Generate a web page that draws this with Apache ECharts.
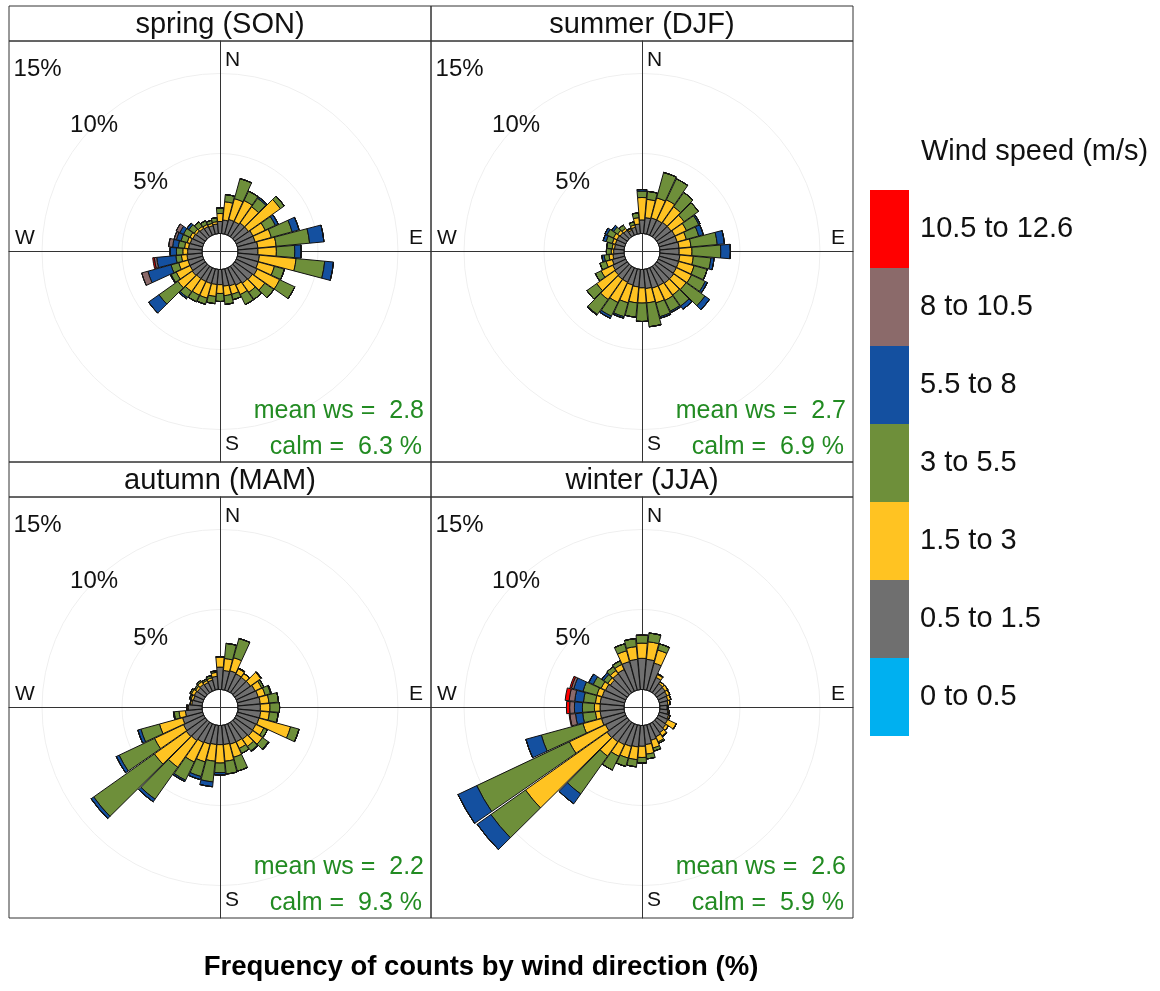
<!DOCTYPE html>
<html>
<head>
<meta charset="utf-8">
<title>Wind rose by season</title>
<script src="https://cdn.jsdelivr.net/npm/echarts@6/dist/echarts.min.js"></script>
<style>
  html, body { margin: 0; padding: 0; background: #fff; }
  #chart { width: 1160px; height: 991px; }
</style>
</head>
<body>
<div id="chart"></div>
<script>
// direction bins, degrees clockwise from north
const directions = [10, 20, 30, 40, 50, 60, 70, 80, 90, 100, 110, 120, 130, 140, 150, 160, 170, 180,
                    190, 200, 210, 220, 230, 240, 250, 260, 270, 280, 290, 300, 310, 320, 330, 340, 350, 360];
const seasons = ['spring (SON)', 'summer (DJF)', 'autumn (MAM)', 'winter (JJA)'];
const speedBins = ['0 to 0.5', '0.5 to 1.5', '1.5 to 3', '3 to 5.5', '5.5 to 8', '8 to 10.5', '10.5 to 12.6'];
const binColors = ['#00b0f0', '#6f6f6f', '#ffc322', '#6e8f3a', '#1450a0', '#8b6a6a', '#ff0000'];
const meanWs = [2.8, 2.7, 2.2, 2.6];
const calm = [6.3, 6.9, 9.3, 5.9];
const compass = ['N', 'S', 'W', 'E'];

// frequency (%) per direction, one array per speed bin
const spring_0_05 = [0,0,0,0,0,0,0,0,0,0,0,0,0,0,0,0,0,0,0,0,0,0,0,0,0,0,0,0,0,0,0,0,0,0,0,0];
const spring_05_15 = [0.85,0.95,0.95,1.05,1.05,1.15,1.15,1.25,1.25,1.35,1.35,1.45,1.35,1.30,1.20,1.10,1.05,0.95,
                      0.95,0.95,0.95,0.95,1.00,0.95,0.95,0.95,0.90,0.85,0.80,0.75,0.70,0.65,0.60,0.55,0.60,0.75];
const spring_15_3 = [1.15,1.35,1.45,1.25,2.45,0.85,1.05,1.15,1.15,2.30,1.05,1.55,0.95,0.70,0.65,0.55,0.60,0.55,
                     0.75,0.95,0.95,1.00,1.10,0.95,0.60,0.35,0.30,0.25,0.20,0.20,0.15,0.15,0.15,0.15,0.15,0.50];
const spring_3_55 = [0.45,1.30,0.65,0.65,0.30,0.70,1.35,2.10,1.15,1.80,0.65,1.05,0.70,0.55,0.70,0.35,0.55,0.50,
                     0.45,0.40,0.45,0.45,1.45,0.35,0.50,0.35,0.40,0.40,0.40,0.45,0.40,0.35,0.25,0.20,0.25,0.35];
const spring_55_8 = [0,0,0,0.10,0,0.20,0.45,0.90,0.40,0.55,0,0,0,0,0,0,0,0,
                     0,0,0,0.10,0.80,0.05,1.50,1.20,0.40,0.35,0.30,0.25,0.15,0,0,0,0,0];
const spring_8_105 = [0,0,0,0,0,0,0,0,0,0,0,0,0,0,0,0,0,0,
                      0,0,0,0,0,0,0.40,0.15,0,0.25,0.15,0.25,0,0,0,0,0,0];
const spring_105_126 = [0,0,0,0,0,0,0,0,0,0,0,0,0,0,0,0,0,0,
                        0,0,0,0,0,0,0,0.10,0,0,0,0,0,0,0,0,0,0];

const summer_0_05 = [0,0,0,0,0,0,0,0,0,0,0,0,0,0,0,0,0,0,0,0,0,0,0,0,0,0,0,0,0,0,0,0,0,0,0,0];
const summer_05_15 = [1.00,1.05,1.05,1.10,1.10,1.15,1.15,1.20,1.20,1.25,1.25,1.25,1.30,1.30,1.25,1.25,1.20,1.15,
                      1.10,1.05,1.00,1.00,0.95,0.90,0.80,0.70,0.65,0.60,0.60,0.60,0.55,0.50,0.35,0.45,0.60,0.85];
const summer_15_3 = [1.15,1.30,1.40,1.20,1.00,0.80,0.60,0.75,0.80,0.85,1.00,1.05,0.95,0.90,1.00,0.95,0.90,0.95,
                     1.00,1.15,1.40,1.55,1.40,0.80,0.40,0.25,0.15,0.15,0.20,0.25,0.20,0.15,0.10,0.15,0.40,1.40];
const summer_3_55 = [0.50,1.65,1.45,1.10,1.10,0.85,0.80,1.65,1.80,1.10,0.85,0.95,1.45,0.85,0.75,0.90,1.50,1.15,
                     0.90,0.90,0.95,1.15,0.75,0.40,0.40,0.30,0.30,0.35,0.40,0.45,0.30,0.25,0.05,0.20,0.30,0.40];
const summer_55_8 = [0,0,0,0,0,0.10,0.30,0.45,0.60,0.20,0,0.15,0.35,0.25,0.10,0.10,0,0,
                     0,0.10,0.15,0.05,0,0,0,0.15,0,0,0.20,0.15,0.15,0,0,0,0,0.10];
const summer_8_105 = [0,0,0,0,0,0,0,0,0,0,0,0,0,0,0,0,0,0,0,0,0,0,0,0,0,0,0,0,0,0,0,0,0,0,0,0];
const summer_105_126 = [0,0,0,0,0,0,0,0,0,0,0,0,0,0,0,0,0,0,0,0,0,0,0,0,0,0,0,0,0,0,0,0,0,0,0,0];

const autumn_0_05 = [0,0,0,0.03,0,0,0,0,0,0.03,0,0,0.03,0,0,0,0,0,
                     0,0,0,0,0,0,0,0,0,0,0,0,0,0,0,0,0.03,0];
const autumn_05_15 = [1.20,1.25,1.20,1.15,1.20,1.30,1.35,1.40,1.40,1.40,1.40,1.35,1.35,1.30,1.25,1.25,1.20,1.20,
                      1.20,1.25,1.30,1.40,1.45,1.40,1.30,1.05,0.85,0.65,0.60,0.65,0.60,0.65,0.60,0.65,0.80,1.40];
const autumn_15_3 = [0.75,0.85,0.35,0.30,0.80,0.45,0.45,0.55,0.60,0.55,2.05,0.55,0.75,0.55,0.45,0.85,1.05,1.15,
                     1.05,1.15,1.35,2.05,2.45,2.00,1.50,0.40,0.10,0.10,0.15,0.20,0.15,0.20,0.15,0.15,0.25,0.65];
const autumn_3_55 = [0.95,1.25,0.05,0,0.05,0.15,0.35,0.60,0.60,0.55,0.55,0.25,0.45,0.35,0.35,0.90,0.80,0.60,
                     1.30,0.95,1.25,2.45,4.65,2.45,1.20,0.30,0,0,0.10,0.10,0.10,0.10,0.10,0.15,0.10,0];
const autumn_55_8 = [0,0,0,0,0,0,0.05,0,0,0,0,0,0.05,0.05,0,0,0,0.15,
                     0.30,0.20,0.10,0.20,0.20,0.20,0.20,0.05,0,0,0,0,0,0,0,0,0,0];
const autumn_8_105 = [0,0,0,0,0,0,0,0,0,0,0,0,0,0,0,0,0,0,0,0,0,0,0,0,0,0,0,0,0,0,0,0,0,0,0,0];
const autumn_105_126 = [0,0,0,0,0,0,0,0,0,0,0,0,0,0,0,0,0,0,0,0,0,0,0,0,0,0,0,0,0,0,0,0,0,0,0,0];

const winter_0_05 = [0,0,0,0,0,0,0,0,0,0,0,0,0,0,0,0,0,0,0,0,0,0,0,0,0,0,0,0,0,0,0,0,0,0,0,0];
const winter_05_15 = [1.90,1.75,0.95,0.70,0.65,0.60,0.55,0.50,0.45,0.50,0.60,0.65,0.70,0.80,0.90,1.00,1.20,1.30,
                      1.35,1.40,1.45,1.50,1.55,1.40,1.50,1.50,1.50,1.50,1.45,1.40,1.30,1.45,1.50,1.85,1.90,1.95];
const winter_15_3 = [1.10,0.85,0.20,0.15,0.20,0.20,0.20,0.15,0.05,0.10,0.10,0.60,0.20,0.25,0.35,0.50,0.60,0.70,
                     0.80,0.75,0.80,1.10,6.25,2.50,1.20,0.30,0.35,0.30,0.35,0.30,0.20,0.25,0.35,0.70,0.80,0.95];
const winter_3_55 = [0.55,0.40,0.05,0,0,0,0,0,0,0,0,0,0,0.05,0.10,0.20,0.30,0.35,
                     0.45,0.55,0.95,2.90,2.65,6.40,2.70,0.80,0.75,0.75,0.90,0.55,0.30,0.30,0.25,0.45,0.50,0.50];
const winter_55_8 = [0,0,0,0,0,0,0,0,0,0,0,0,0,0,0,0,0,0,
                     0,0,0,0.75,1.05,1.30,1.00,0.45,0.50,0.55,0.60,0.30,0.15,0,0,0,0,0];
const winter_8_105 = [0,0,0,0,0,0,0,0,0,0,0,0,0,0,0,0,0,0,
                      0,0,0,0,0,0,0,0.35,0.30,0.35,0.15,0,0,0,0,0,0,0];
const winter_105_126 = [0,0,0,0,0,0,0,0,0,0,0,0,0,0,0,0,0,0,
                        0,0,0,0,0,0,0,0.05,0.20,0.25,0.10,0,0,0,0,0,0,0];

const seasonBins = [
  [spring_0_05, spring_05_15, spring_15_3, spring_3_55, spring_55_8, spring_8_105, spring_105_126],
  [summer_0_05, summer_05_15, summer_15_3, summer_3_55, summer_55_8, summer_8_105, summer_105_126],
  [autumn_0_05, autumn_05_15, autumn_15_3, autumn_3_55, autumn_55_8, autumn_8_105, autumn_105_126],
  [winter_0_05, winter_05_15, winter_15_3, winter_3_55, winter_55_8, winter_8_105, winter_105_126]
];

// panel layout (px)
const plotLefts = [9, 431, 9, 431];
const plotTops = [41, 41, 497, 497];
const plotW = 422, plotH = 421;
const stripH = 35;
const FONT = "'Liberation Sans', Arial, Helvetica, sans-serif";
const INK = '#111';

// angle axis starts at NW (so the % labels sit on that diagonal): first category is 320
const rot = a => a.slice(31).concat(a.slice(0, 31));
const angleCats = rot(directions);

const option = {
  animation: false,
  textStyle: { fontFamily: FONT, color: INK },
  title: [],
  grid: [],
  xAxis: [],
  yAxis: [],
  polar: [],
  angleAxis: [],
  radiusAxis: [],
  series: [],
  graphic: [],
  legend: {
    orient: 'vertical',
    left: 870,
    top: 190,
    padding: 0,
    itemWidth: 39,
    itemHeight: 78,
    itemGap: 0,
    icon: 'rect',
    selectedMode: false,
    data: speedBins.slice().reverse(),
    itemStyle: { borderWidth: 0 },
    textStyle: { fontSize: 29, color: INK, padding: [0, 0, 0, 6] }
  }
};

seasons.forEach((name, p) => {
  const cx = plotLefts[p] + plotW / 2;
  const cy = plotTops[p] + plotH / 2;

  // strip with the season name
  option.graphic.push({
    type: 'rect', silent: true,
    shape: { x: plotLefts[p], y: plotTops[p] - stripH, width: plotW, height: stripH },
    style: { fill: 'none', stroke: '#333', lineWidth: 1 }
  });
  option.title.push({
    text: name, left: cx, top: plotTops[p] - stripH / 2 + 1, padding: 0,
    textAlign: 'center', textVerticalAlign: 'middle',
    textStyle: { fontSize: 29, fontWeight: 'normal', color: INK }
  });

  // panel frame + the N-S / W-E cross lines
  option.grid.push({
    left: plotLefts[p], top: plotTops[p], width: plotW, height: plotH,
    show: true, borderColor: '#333', borderWidth: 1, backgroundColor: 'transparent'
  });
  const crossAxis = {
    gridIndex: p, type: 'value', min: -1, max: 1,
    axisLine: { show: true, onZero: true, lineStyle: { color: '#333', width: 1 } },
    axisTick: { show: false }, axisLabel: { show: false }, splitLine: { show: false }
  };
  option.xAxis.push(Object.assign({}, crossAxis));
  option.yAxis.push(Object.assign({}, crossAxis));

  // compass letters and summary stats as labels on the cross axes
  option.series.push({
    type: 'scatter', xAxisIndex: p, yAxisIndex: p, symbolSize: 0, silent: true, z: 5,
    itemStyle: { opacity: 1 },
    label: { show: true, formatter: '{b}', fontSize: 21, color: INK, opacity: 1, position: 'inside' },
    data: [
      { name: compass[0], value: [0, 1], label: { align: 'left', verticalAlign: 'middle', offset: [5, 19] } },
      { name: compass[1], value: [0, -1], label: { align: 'left', verticalAlign: 'middle', offset: [5, -18] } },
      { name: compass[2], value: [-1, 0], label: { align: 'left', verticalAlign: 'middle', offset: [6, -13] } },
      { name: compass[3], value: [1, 0], label: { align: 'right', verticalAlign: 'middle', offset: [-8, -13] } },
      { name: 'mean ws =  ' + meanWs[p].toFixed(1), value: [1, -1],
        label: { align: 'right', verticalAlign: 'middle', offset: [-7, -51], fontSize: 25, color: '#228b22' } },
      { name: 'calm =  ' + calm[p].toFixed(1) + ' %', value: [1, -1],
        label: { align: 'right', verticalAlign: 'middle', offset: [-9, -15], fontSize: 25, color: '#228b22' } }
    ]
  });

  // the rose
  option.polar.push({ center: [cx, cy], radius: [18, 258] });
  option.angleAxis.push({
    polarIndex: p, type: 'category', data: angleCats, startAngle: 135, clockwise: true,
    axisLine: { show: false }, axisTick: { show: false }, axisLabel: { show: false }, splitLine: { show: false }
  });
  option.radiusAxis.push({
    polarIndex: p, type: 'value', min: 0, max: 15, interval: 5,
    axisLine: { show: false }, axisTick: { show: false },
    axisLabel: {
      show: true, showMinLabel: false, formatter: '{value}%', margin: 0,
      align: 'center', verticalAlign: 'middle', fontSize: 24, color: INK
    },
    splitLine: {
      show: true,
      lineStyle: { color: ['rgba(0,0,0,0)', '#efefef', '#efefef', 'rgba(0,0,0,0)'], width: 1 }
    }
  });
  seasonBins[p].forEach((vals, b) => {
    option.series.push({
      type: 'bar', coordinateSystem: 'polar', polarIndex: p, stack: 'rose' + p,
      name: speedBins[b], data: rot(vals), barCategoryGap: '6%', silent: true,
      itemStyle: { color: binColors[b], borderColor: '#111', borderWidth: 1 }
    });
  });
});

option.title.push({
  text: 'Wind speed (m/s)', left: 921, top: 152, padding: 0, textVerticalAlign: 'middle',
  textStyle: { fontSize: 29, fontWeight: 'normal', color: INK }
});
option.title.push({
  text: 'Frequency of counts by wind direction (%)', left: 481, top: 967, padding: 0,
  textAlign: 'center', textVerticalAlign: 'middle',
  textStyle: { fontSize: 27.5, fontWeight: 'bold', color: '#000' }
});

const chart = echarts.init(document.getElementById('chart'), null, { renderer: 'canvas' });
chart.setOption(option);
</script>
</body>
</html>
